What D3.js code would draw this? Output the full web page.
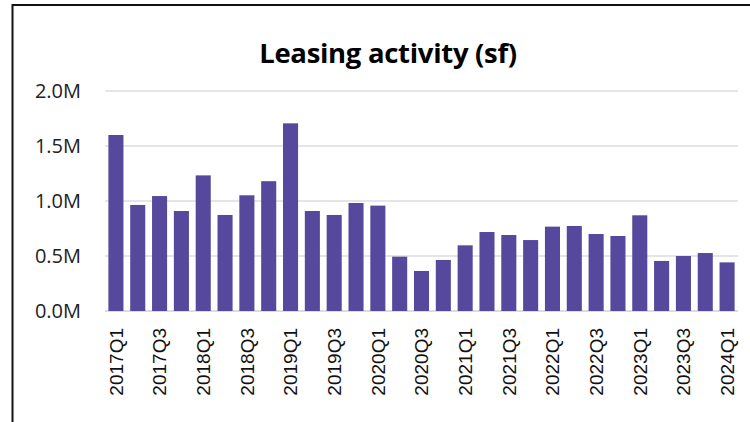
<!DOCTYPE html>
<html>
<head>
<meta charset="utf-8">
<script src="https://cdn.jsdelivr.net/npm/d3@7"></script>
<style>
  body { margin: 0; background: #fff; }
  svg { display: block; }
</style>
</head>
<body>
<svg id="chart"></svg>
<script>
// quarters 2017Q1 .. 2024Q1
const quarters = ["2017Q1","2017Q2","2017Q3","2017Q4","2018Q1","2018Q2","2018Q3","2018Q4",
  "2019Q1","2019Q2","2019Q3","2019Q4","2020Q1","2020Q2","2020Q3","2020Q4",
  "2021Q1","2021Q2","2021Q3","2021Q4","2022Q1","2022Q2","2022Q3","2022Q4",
  "2023Q1","2023Q2","2023Q3","2023Q4","2024Q1"];
// leasing activity, sf
const leased = [1600000, 964000, 1045000, 909000, 1233000, 873000, 1052000, 1180000,
  1706000, 909000, 873000, 982000, 958000, 494000, 364000, 464000,
  597000, 718000, 691000, 645000, 767000, 773000, 700000, 682000,
  870000, 455000, 500000, 527000, 442000];
const yTicks = [0, 500000, 1000000, 1500000, 2000000];
const titleText = "Leasing activity (sf)";

const W = 750, H = 422;
const margin = {top: 91, right: 12, bottom: 111, left: 105};
const width = W - margin.left - margin.right;
const height = H - margin.top - margin.bottom;

const svg = d3.select("#chart").attr("width", W).attr("height", H);

// frame
svg.append("path")
  .attr("d", `M12.5,${H} L12.5,5 L${W},5`)
  .attr("fill", "none")
  .attr("stroke", "#111")
  .attr("stroke-width", 2);

svg.append("text")
  .attr("x", 388).attr("y", 63)
  .attr("text-anchor", "middle")
  .attr("font-family", "'Open Sans', sans-serif")
  .attr("font-weight", 700)
  .attr("font-size", 27.5)
  .attr("letter-spacing", -0.3)
  .attr("fill", "#000")
  .text(titleText);

const g = svg.append("g").attr("transform", `translate(${margin.left},${margin.top})`);

const x = d3.scaleBand().domain(quarters).range([0, width])
  .paddingInner(0.31).paddingOuter(0.155);
const y = d3.scaleLinear().domain([0, 2000000]).range([height, 0]);

// gridlines
g.append("g")
  .selectAll("line")
  .data(yTicks)
  .join("line")
  .attr("x1", 0).attr("x2", width)
  .attr("y1", d => y(d)).attr("y2", d => y(d))
  .attr("stroke", "#dcdcdc")
  .attr("stroke-width", d => d === 0 ? 2 : 1.3);

// y axis labels
const yAxis = g.append("g")
  .call(d3.axisLeft(y).tickValues(yTicks).tickSize(0).tickPadding(24)
    .tickFormat(d => (d / 1e6).toFixed(1) + "M"));
yAxis.select(".domain").remove();
yAxis.selectAll("text")
  .attr("font-family", "'Open Sans', sans-serif")
  .attr("font-size", 20)
  .attr("fill", "#222");

// bars
g.selectAll("rect.bar")
  .data(leased)
  .join("rect")
  .attr("class", "bar")
  .attr("x", (d, i) => x(quarters[i]))
  .attr("y", d => y(d))
  .attr("width", x.bandwidth())
  .attr("height", d => height - y(d))
  .attr("fill", "#56499d");

// x axis labels, every other quarter
const xAxis = g.append("g")
  .attr("transform", `translate(0,${height})`)
  .call(d3.axisBottom(x).tickSize(0).tickPadding(0)
    .tickValues(quarters.filter((q, i) => i % 2 === 0)));
xAxis.select(".domain").remove();
xAxis.selectAll("text")
  .attr("font-family", "'Liberation Sans', Arial, sans-serif")
  .attr("font-size", 19)
  .attr("fill", "#111")
  .attr("text-anchor", "end")
  .attr("transform", "rotate(-90)")
  .attr("x", -17)
  .attr("y", 0)
  .attr("dy", "0.36em");
</script>
</body>
</html>
